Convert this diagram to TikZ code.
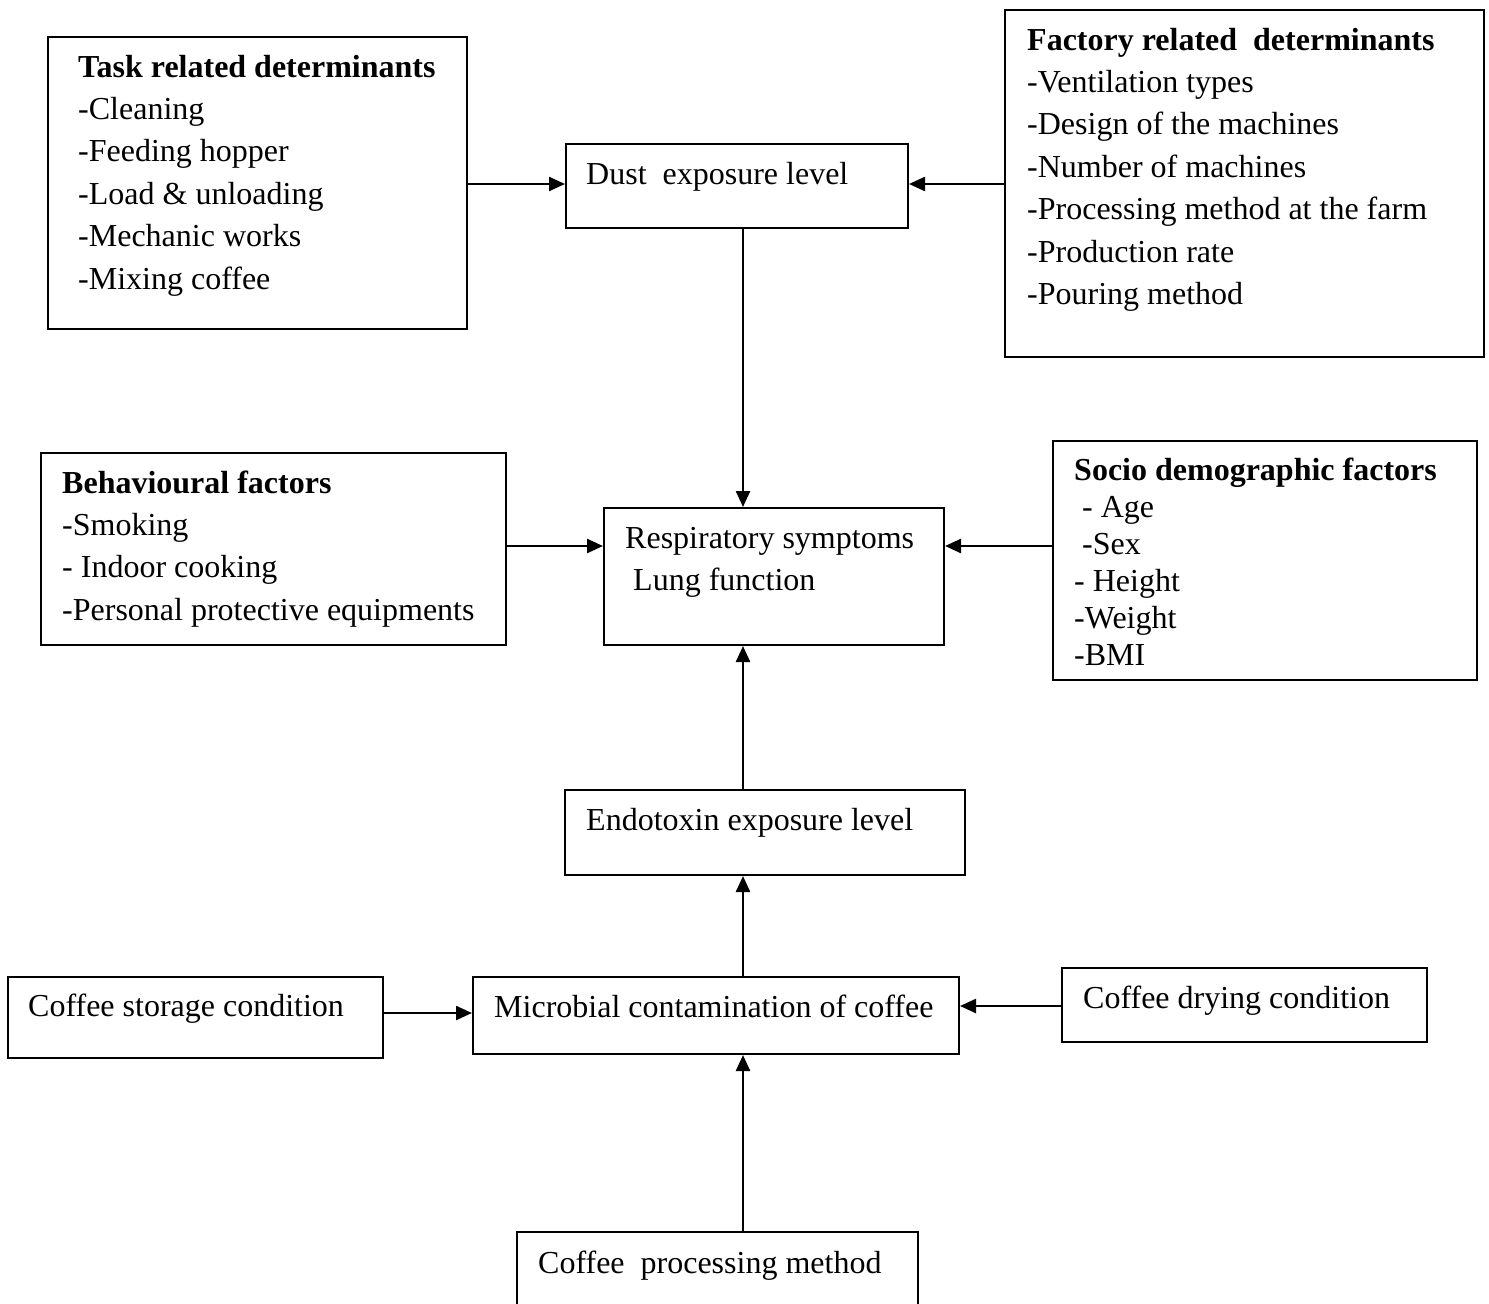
\documentclass[tikz,border=0pt]{standalone}
\usepackage{fontspec}
\setmainfont{Liberation Serif}
\usetikzlibrary{arrows.meta}
\newcommand{\txtlines}[1]{\begin{tabular}[t]{@{}l@{}}#1\end{tabular}}
\begin{document}
\begin{tikzpicture}[x=1pt,y=-1pt,
  box/.style={draw,line width=2pt,inner sep=0pt,rectangle},
  txt/.style={anchor=base west,inner sep=0pt,font=\fontsize{32}{42.4}\selectfont},
  txtsm/.style={anchor=base west,inner sep=0pt,font=\fontsize{32}{37}\selectfont},
  arr/.style={line width=2.4pt,-{Triangle[length=16pt,width=14pt]}}]
\useasboundingbox (0,0) rectangle (1489,1304);
\fill[white] (0,0) rectangle (1489,1304);
\begin{scope}
\clip (0,0) rectangle (1489,1304);
% boxes
\node[box,minimum width=419pt,minimum height=292pt] (task) at (257.5,183) {};
\node[box,minimum width=342pt,minimum height=84pt] (dust) at (737,186) {};
\node[box,minimum width=479pt,minimum height=347pt] (factory) at (1244.5,183.5) {};
\node[box,minimum width=465pt,minimum height=192pt] (behav) at (273.5,549) {};
\node[box,minimum width=340pt,minimum height=137pt] (resp) at (774,576.5) {};
\node[box,minimum width=424pt,minimum height=239pt] (socio) at (1265,560.5) {};
\node[box,minimum width=400pt,minimum height=85pt] (endo) at (765,832.5) {};
\node[box,minimum width=375pt,minimum height=81pt] (storage) at (195.5,1017.5) {};
\node[box,minimum width=486pt,minimum height=77pt] (microb) at (716,1015.5) {};
\node[box,minimum width=365pt,minimum height=74pt] (drying) at (1244.5,1005) {};
\node[box,minimum width=401pt,minimum height=88pt] (proc) at (717.5,1276) {};
\end{scope}

% texts
\node[txt] (tasktxt) at (78,77) {\txtlines{\textbf{Task related determinants}\\
-Cleaning\\-Feeding hopper\\-Load \& unloading\\-Mechanic works\\-Mixing coffee}};
\node[txt] (dusttxt) at (586,184) {Dust\ \ exposure level};
\node[txt] (factorytxt) at (1027,50) {\txtlines{\textbf{Factory related\ \ determinants}\\
-Ventilation types\\-Design of the machines\\-Number of machines\\-Processing method at the farm\\-Production rate\\-Pouring method}};
\node[txt] (behavtxt) at (62,493) {\txtlines{\textbf{Behavioural factors}\\
-Smoking\\- Indoor cooking\\-Personal protective equipments}};
\node[txt] (resptxt) at (625,548) {\txtlines{Respiratory symptoms\\\ Lung function}};
\node[txtsm] (sociotxt) at (1074,480) {\txtlines{\textbf{Socio demographic factors}\\
\ - Age\\\ -Sex\\- Height\\-Weight\\-BMI}};
\node[txt] (endotxt) at (586,830) {Endotoxin exposure level};
\node[txt] (storagetxt) at (28,1016) {Coffee storage condition};
\node[txt] (microbtxt) at (494,1017) {Microbial contamination of coffee};
\node[txt] (dryingtxt) at (1083,1008) {Coffee drying condition};
\node[txt] (proctxt) at (538,1273) {Coffee\ \ processing method};

% connectors
\coordinate (axis) at (743,0);
\coordinate (rowA) at (0,184);
\coordinate (rowB) at (0,546);
\coordinate (rowC) at (0,1013);
\coordinate (rowD) at (0,1006);
\draw[arr] (task.east |- rowA) -- (dust.west |- rowA);
\draw[arr] (factory.west |- rowA) -- (dust.east |- rowA);
\draw[arr] (dust.south -| axis) -- (resp.north -| axis);
\draw[arr] (behav.east |- rowB) -- (resp.west |- rowB);
\draw[arr] (socio.west |- rowB) -- (resp.east |- rowB);
\draw[arr] (endo.north -| axis) -- (resp.south -| axis);
\draw[arr] (microb.north -| axis) -- (endo.south -| axis);
\draw[arr] (storage.east |- rowC) -- (microb.west |- rowC);
\draw[arr] (drying.west |- rowD) -- (microb.east |- rowD);
\draw[arr] (proc.north -| axis) -- (microb.south -| axis);
\end{tikzpicture}
\end{document}
